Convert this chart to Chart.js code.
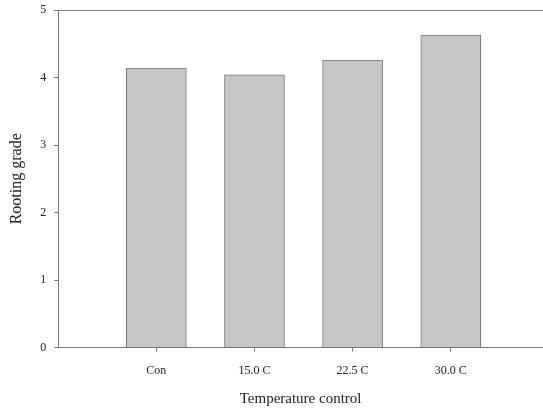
<!DOCTYPE html>
<html>
<head>
<meta charset="utf-8">
<script src="https://cdn.jsdelivr.net/npm/chart.js@4"></script>
<style>
  html, body { margin: 0; padding: 0; background: #fff; overflow: hidden; }
  #wrap { width: 543px; height: 408px; }
</style>
</head>
<body>
<div id="wrap"><canvas id="chart"></canvas></div>
<script>
const categories = ['Con', '15.0 C', '22.5 C', '30.0 C']
const rootingGrade = [4.14, 4.04, 4.26, 4.63]
const yTicks = [0, 1, 2, 3, 4, 5]

const FONT = "'Liberation Serif', 'DejaVu Serif', serif"
const INK = '#222'

const points = categories.map((c, i) => ({ x: i + 1, y: rootingGrade[i] }))

// top frame line only (the reference has no right border)
const topFrame = {
    id: 'topFrame',
    afterDraw(chart) {
        const { ctx, chartArea } = chart
        ctx.save()
        ctx.strokeStyle = '#888'
        ctx.lineWidth = 1
        ctx.beginPath()
        ctx.moveTo(chartArea.left, chartArea.top + 0.5)
        ctx.lineTo(chart.width, chartArea.top + 0.5)
        ctx.stroke()
        ctx.restore()
    }
}

const ctx = document.getElementById('chart').getContext('2d')
new Chart(ctx, {
    type: 'bar',
    data: {
        datasets: [{
            data: points,
            backgroundColor: '#c6c6c6',
            borderColor: '#7a7a7a',
            borderWidth: 1,
            barThickness: 60
        }]
    },
    options: {
        responsive: true,
        maintainAspectRatio: false,
        animation: false,
        layout: { padding: { top: 0, right: 0, left: 7, bottom: 0 } },
        plugins: {
            legend: { display: false },
            tooltip: { enabled: false }
        },
        scales: {
            x: {
                type: 'linear',
                offset: false,
                min: 0,
                max: 4.94,
                afterBuildTicks: axis => { axis.ticks = categories.map((c, i) => ({ value: i + 1 })) },
                ticks: {
                    callback: v => categories[v - 1] || '',
                    color: INK,
                    font: { family: FONT, size: 12 },
                    padding: 12,
                    maxRotation: 0
                },
                grid: { offset: false, drawOnChartArea: false, tickLength: 4, color: '#777' },
                border: { color: '#777', width: 1 },
                title: {
                    display: true,
                    text: 'Temperature control',
                    color: INK,
                    font: { family: FONT, size: 15 },
                    padding: { top: 0, bottom: 0 }
                }
            },
            y: {
                min: 0,
                max: 5,
                afterBuildTicks: axis => { axis.ticks = yTicks.map(v => ({ value: v })) },
                // pull the plot top up to where the reference frame sits
                afterFit: axis => { axis.paddingTop = 10 },
                ticks: {
                    color: INK,
                    font: { family: FONT, size: 12 },
                    padding: 8
                },
                grid: { drawOnChartArea: false, tickLength: 4, color: '#777' },
                border: { color: '#777', width: 1 },
                title: {
                    display: true,
                    text: 'Rooting grade',
                    color: INK,
                    font: { family: FONT, size: 16 },
                    padding: { top: 0, bottom: 6 }
                }
            }
        }
    },
    plugins: [topFrame]
})
</script>
</body>
</html>
